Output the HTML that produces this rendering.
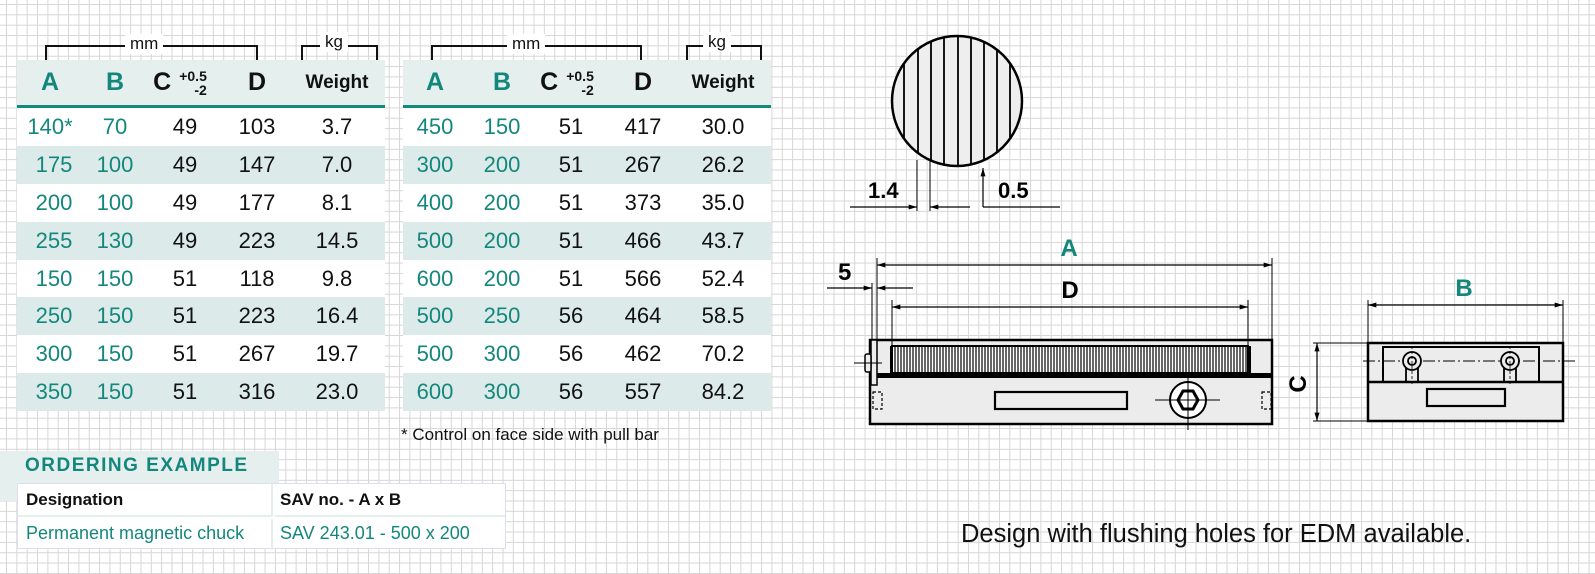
<!DOCTYPE html>
<html><head><meta charset="utf-8">
<style>
*{margin:0;padding:0;box-sizing:border-box}
body{width:1595px;height:574px;position:relative;overflow:hidden;background:#fff;
background-image:linear-gradient(to right,#d6d6d6 1px,transparent 1px),linear-gradient(to bottom,#d6d6d6 1px,transparent 1px);
background-size:10.35px 10.35px;background-position:6px 4px;
font-family:"Liberation Sans",sans-serif;color:#111}
.t{position:absolute;top:60px;background:#fff}
.hd{height:48px;background:#e4efee;border-bottom:3px solid #118a7e;position:relative}
.row{height:37.9px;position:relative}
.row:nth-child(even){background:#dcebea}
.c{position:absolute;top:0;height:100%;display:flex;align-items:center;justify-content:center;font-size:22px;transform:translateX(-50%)}
.g{color:#14877d}
.h{font-weight:bold;font-size:25px}
.hw{font-weight:bold;font-size:19px}
.ab{position:absolute;font-size:17px}
.br{position:absolute;border:2px solid #111;border-bottom:none;height:15px}
</style></head><body>

<div class="br" style="left:45px;top:45px;width:213px"></div>
<div class="ab" style="left:125px;top:34px;background:#fff;padding:0 5px">mm</div>
<div class="br" style="left:301px;top:45px;width:77px"></div>
<div class="ab" style="left:320px;top:32px;background:#fff;padding:0 5px">kg</div>
<div class="br" style="left:431px;top:45px;width:211px"></div>
<div class="ab" style="left:507px;top:34px;background:#fff;padding:0 5px">mm</div>
<div class="br" style="left:686px;top:45px;width:76px"></div>
<div class="ab" style="left:703px;top:32px;background:#fff;padding:0 5px">kg</div>

<div class="t" style="left:17px;width:368px">
 <div class="hd">
  <div class="c h g" style="left:33px">A</div>
  <div class="c h g" style="left:98px">B</div>
  <div class="c h" style="left:163px">C<span style="font-size:14px;line-height:14px;margin-left:8px;display:inline-block;text-align:right">+0.5<br>-2</span></div>
  <div class="c h" style="left:240px">D</div>
  <div class="c hw" style="left:320px">Weight</div>
 </div>
 <div>
 <div class="row"><div class="c g" style="left:33px">140*</div><div class="c g" style="left:98px">70</div><div class="c" style="left:168px">49</div><div class="c" style="left:240px">103</div><div class="c" style="left:320px">3.7</div></div>
 <div class="row"><div class="c g" style="left:37px">175</div><div class="c g" style="left:98px">100</div><div class="c" style="left:168px">49</div><div class="c" style="left:240px">147</div><div class="c" style="left:320px">7.0</div></div>
 <div class="row"><div class="c g" style="left:37px">200</div><div class="c g" style="left:98px">100</div><div class="c" style="left:168px">49</div><div class="c" style="left:240px">177</div><div class="c" style="left:320px">8.1</div></div>
 <div class="row"><div class="c g" style="left:37px">255</div><div class="c g" style="left:98px">130</div><div class="c" style="left:168px">49</div><div class="c" style="left:240px">223</div><div class="c" style="left:320px">14.5</div></div>
 <div class="row"><div class="c g" style="left:37px">150</div><div class="c g" style="left:98px">150</div><div class="c" style="left:168px">51</div><div class="c" style="left:240px">118</div><div class="c" style="left:320px">9.8</div></div>
 <div class="row"><div class="c g" style="left:37px">250</div><div class="c g" style="left:98px">150</div><div class="c" style="left:168px">51</div><div class="c" style="left:240px">223</div><div class="c" style="left:320px">16.4</div></div>
 <div class="row"><div class="c g" style="left:37px">300</div><div class="c g" style="left:98px">150</div><div class="c" style="left:168px">51</div><div class="c" style="left:240px">267</div><div class="c" style="left:320px">19.7</div></div>
 <div class="row"><div class="c g" style="left:37px">350</div><div class="c g" style="left:98px">150</div><div class="c" style="left:168px">51</div><div class="c" style="left:240px">316</div><div class="c" style="left:320px">23.0</div></div>
 </div>
</div>

<div class="t" style="left:403px;width:368px">
 <div class="hd">
  <div class="c h g" style="left:32px">A</div>
  <div class="c h g" style="left:99px">B</div>
  <div class="c h" style="left:164px">C<span style="font-size:14px;line-height:14px;margin-left:8px;display:inline-block;text-align:right">+0.5<br>-2</span></div>
  <div class="c h" style="left:240px">D</div>
  <div class="c hw" style="left:320px">Weight</div>
 </div>
 <div>
 <div class="row"><div class="c g" style="left:32px">450</div><div class="c g" style="left:99px">150</div><div class="c" style="left:168px">51</div><div class="c" style="left:240px">417</div><div class="c" style="left:320px">30.0</div></div>
 <div class="row"><div class="c g" style="left:32px">300</div><div class="c g" style="left:99px">200</div><div class="c" style="left:168px">51</div><div class="c" style="left:240px">267</div><div class="c" style="left:320px">26.2</div></div>
 <div class="row"><div class="c g" style="left:32px">400</div><div class="c g" style="left:99px">200</div><div class="c" style="left:168px">51</div><div class="c" style="left:240px">373</div><div class="c" style="left:320px">35.0</div></div>
 <div class="row"><div class="c g" style="left:32px">500</div><div class="c g" style="left:99px">200</div><div class="c" style="left:168px">51</div><div class="c" style="left:240px">466</div><div class="c" style="left:320px">43.7</div></div>
 <div class="row"><div class="c g" style="left:32px">600</div><div class="c g" style="left:99px">200</div><div class="c" style="left:168px">51</div><div class="c" style="left:240px">566</div><div class="c" style="left:320px">52.4</div></div>
 <div class="row"><div class="c g" style="left:32px">500</div><div class="c g" style="left:99px">250</div><div class="c" style="left:168px">56</div><div class="c" style="left:240px">464</div><div class="c" style="left:320px">58.5</div></div>
 <div class="row"><div class="c g" style="left:32px">500</div><div class="c g" style="left:99px">300</div><div class="c" style="left:168px">56</div><div class="c" style="left:240px">462</div><div class="c" style="left:320px">70.2</div></div>
 <div class="row"><div class="c g" style="left:32px">600</div><div class="c g" style="left:99px">300</div><div class="c" style="left:168px">56</div><div class="c" style="left:240px">557</div><div class="c" style="left:320px">84.2</div></div>
 </div>
</div>

<div class="ab" style="left:401px;top:425px;font-size:17px">* Control on face side with pull bar</div>

<div style="position:absolute;left:0;top:451px;width:279px;height:50px;background:#e4efee"></div>
<div style="position:absolute;left:25px;top:455px;font-size:19px;font-weight:bold;color:#14877d;letter-spacing:1.5px">ORDERING EXAMPLE</div>
<div style="position:absolute;left:17px;top:483px;width:489px;height:66px;background:#fff;border:1px solid #dde">
 <div style="position:absolute;left:0;top:0;width:255px;height:33px;border-right:2px solid #e4efee;border-bottom:2px solid #e4efee;font-weight:bold;font-size:17px;padding:6px 0 0 8px">Designation</div>
 <div style="position:absolute;left:257px;top:0;width:230px;height:33px;border-bottom:2px solid #e4efee;font-weight:bold;font-size:17px;padding:6px 0 0 5px">SAV no. - A x B</div>
 <div style="position:absolute;left:0;top:35px;width:255px;height:31px;border-right:2px solid #e4efee;color:#14877d;font-size:18px;padding:4px 0 0 8px">Permanent magnetic chuck</div>
 <div style="position:absolute;left:257px;top:35px;width:230px;height:31px;color:#14877d;font-size:18px;padding:4px 0 0 5px">SAV 243.01 - 500 x 200</div>
</div>

<div class="ab" style="left:961px;top:520px;font-size:25.5px">Design with flushing holes for EDM available.</div>

<svg style="position:absolute;left:0;top:0" width="1595" height="574" viewBox="0 0 1595 574">
<defs>
<marker id="ar" viewBox="0 0 10 6" refX="10" refY="3" markerWidth="16" markerHeight="5" markerUnits="userSpaceOnUse" orient="auto-start-reverse"><path d="M0,0L10,3L0,6z" fill="#000"/></marker>
<clipPath id="cc"><circle cx="957" cy="101" r="65"/></clipPath>
</defs>
<g stroke="#000" fill="none">
<circle cx="957" cy="101" r="65" fill="#eee" stroke-width="2.5"/>
<g clip-path="url(#cc)" stroke-width="1.8">
<line x1="904" y1="30" x2="904" y2="170"/><line x1="918" y1="30" x2="918" y2="170"/><line x1="931" y1="30" x2="931" y2="170"/><line x1="944" y1="30" x2="944" y2="170"/><line x1="958" y1="30" x2="958" y2="170"/><line x1="971" y1="30" x2="971" y2="170"/><line x1="984" y1="30" x2="984" y2="170"/><line x1="997" y1="30" x2="997" y2="170"/><line x1="1010" y1="30" x2="1010" y2="170"/>
</g>
<line x1="917" y1="160" x2="917" y2="211" stroke-width="1"/>
<line x1="930" y1="160" x2="930" y2="211" stroke-width="1"/>
<line x1="850" y1="207" x2="917" y2="207" stroke-width="1.2" marker-end="url(#ar)"/>
<line x1="970" y1="207" x2="930" y2="207" stroke-width="1.2" marker-end="url(#ar)"/>
<line x1="983" y1="207" x2="983" y2="168" stroke-width="1.2" marker-end="url(#ar)"/>
<line x1="983" y1="207" x2="1060" y2="207" stroke-width="1.2"/>

<rect x="870" y="340" width="402" height="84" fill="#ececec" stroke-width="2.5"/>
<rect x="892" y="346" width="356" height="27" fill="#fff" stroke-width="2"/>
<g stroke-width="1.2">
<path d="M895 346V373M898 346V373M901 346V373M904 346V373M907 346V373M910 346V373M913 346V373M916 346V373M919 346V373M922 346V373M925 346V373M928 346V373M931 346V373M934 346V373M937 346V373M940 346V373M943 346V373M946 346V373M949 346V373M952 346V373M955 346V373M958 346V373M961 346V373M964 346V373M967 346V373M970 346V373M973 346V373M976 346V373M979 346V373M982 346V373M985 346V373M988 346V373M991 346V373M994 346V373M997 346V373M1000 346V373M1003 346V373M1006 346V373M1009 346V373M1012 346V373M1015 346V373M1018 346V373M1021 346V373M1024 346V373M1027 346V373M1030 346V373M1033 346V373M1036 346V373M1039 346V373M1042 346V373M1045 346V373M1048 346V373M1051 346V373M1054 346V373M1057 346V373M1060 346V373M1063 346V373M1066 346V373M1069 346V373M1072 346V373M1075 346V373M1078 346V373M1081 346V373M1084 346V373M1087 346V373M1090 346V373M1093 346V373M1096 346V373M1099 346V373M1102 346V373M1105 346V373M1108 346V373M1111 346V373M1114 346V373M1117 346V373M1120 346V373M1123 346V373M1126 346V373M1129 346V373M1132 346V373M1135 346V373M1138 346V373M1141 346V373M1144 346V373M1147 346V373M1150 346V373M1153 346V373M1156 346V373M1159 346V373M1162 346V373M1165 346V373M1168 346V373M1171 346V373M1174 346V373M1177 346V373M1180 346V373M1183 346V373M1186 346V373M1189 346V373M1192 346V373M1195 346V373M1198 346V373M1201 346V373M1204 346V373M1207 346V373M1210 346V373M1213 346V373M1216 346V373M1219 346V373M1222 346V373M1225 346V373M1228 346V373M1231 346V373M1234 346V373M1237 346V373M1240 346V373M1243 346V373M1246 346V373"/>
</g>
<rect x="870" y="373" width="402" height="5" fill="#000" stroke="none"/>
<rect x="890" y="346" width="3" height="28" fill="#000" stroke="none"/>
<rect x="1247" y="346" width="4" height="28" fill="#000" stroke="none"/>
<rect x="871" y="340" width="6" height="45" fill="#eee" stroke-width="1.5"/>
<rect x="865" y="354" width="6" height="18" rx="2" fill="#eee" stroke-width="1.5"/>
<line x1="854" y1="363" x2="882" y2="363" stroke-width="1"/>
<rect x="873" y="392" width="9" height="17" stroke-width="1.2" stroke-dasharray="3,2"/>
<rect x="1262" y="392" width="9" height="17" stroke-width="1.2" stroke-dasharray="3,2"/>
<rect x="995" y="392" width="132" height="17" fill="#ececec" stroke-width="2.2"/>
<circle cx="1188" cy="400" r="18" fill="#fff" stroke-width="2"/>
<polygon points="1198,400 1193,409 1183,409 1178,400 1183,391 1193,391" fill="#fff" stroke-width="3"/>
<line x1="1155" y1="400" x2="1220" y2="400" stroke-width="1"/>
<line x1="1188" y1="378" x2="1188" y2="430" stroke-width="1"/>
<line x1="877" y1="258" x2="877" y2="340" stroke-width="1"/>
<line x1="1272" y1="258" x2="1272" y2="340" stroke-width="1"/>
<line x1="877" y1="265" x2="1272" y2="265" stroke-width="1.2" marker-start="url(#ar)" marker-end="url(#ar)"/>
<line x1="892" y1="300" x2="892" y2="346" stroke-width="1"/>
<line x1="1248" y1="300" x2="1248" y2="346" stroke-width="1"/>
<line x1="892" y1="307" x2="1248" y2="307" stroke-width="1.2" marker-start="url(#ar)" marker-end="url(#ar)"/>
<line x1="872" y1="283" x2="872" y2="340" stroke-width="1"/>
<line x1="827" y1="288" x2="872" y2="288" stroke-width="1.2" marker-end="url(#ar)"/>
<line x1="913" y1="288" x2="877" y2="288" stroke-width="1.2" marker-end="url(#ar)"/>

<rect x="1368" y="343" width="195" height="78" fill="#ececec" stroke-width="2.5"/>
<rect x="1383" y="347" width="156" height="35" fill="#ececec" stroke-width="2"/>
<line x1="1368" y1="382" x2="1563" y2="382" stroke-width="2.5"/>
<rect x="1427" y="389" width="78" height="17" fill="#ececec" stroke-width="2.2"/>
<line x1="1363" y1="361" x2="1575" y2="361" stroke-width="1" stroke-dasharray="12,3,2,3"/>
<g stroke-width="1.8" fill="#ececec">
<path d="M1406 366V382M1418 366V382"/><path d="M1504 366V382M1516 366V382"/>
<circle cx="1412" cy="361" r="9"/><circle cx="1412" cy="361" r="4"/>
<circle cx="1510" cy="361" r="9"/><circle cx="1510" cy="361" r="4"/>
</g>
<line x1="1412" y1="346" x2="1412" y2="386" stroke-width="0.8" stroke-dasharray="3,2"/>
<line x1="1510" y1="346" x2="1510" y2="386" stroke-width="0.8" stroke-dasharray="3,2"/>
<line x1="1368" y1="300" x2="1368" y2="343" stroke-width="1"/>
<line x1="1563" y1="300" x2="1563" y2="343" stroke-width="1"/>
<line x1="1368" y1="305" x2="1563" y2="305" stroke-width="1.2" marker-start="url(#ar)" marker-end="url(#ar)"/>
<line x1="1313" y1="343" x2="1368" y2="343" stroke-width="1"/>
<line x1="1313" y1="421" x2="1368" y2="421" stroke-width="1"/>
<line x1="1317" y1="343" x2="1317" y2="421" stroke-width="1.2" marker-start="url(#ar)" marker-end="url(#ar)"/>
</g>
<g font-family="Liberation Sans, sans-serif" font-weight="bold" font-size="22">
<text x="868" y="198">1.4</text>
<text x="998" y="198">0.5</text>
<text x="1069" y="256" fill="#14877d" text-anchor="middle" font-size="24">A</text>
<text x="1070" y="298" text-anchor="middle" font-size="24">D</text>
<text x="838" y="280" font-size="24">5</text>
<text x="1464" y="296" fill="#14877d" text-anchor="middle" font-size="24">B</text>
<text x="1298" y="384" text-anchor="middle" font-size="24" transform="rotate(-90 1298 384)" dy="8">C</text>
</g>
</svg>
</body></html>
